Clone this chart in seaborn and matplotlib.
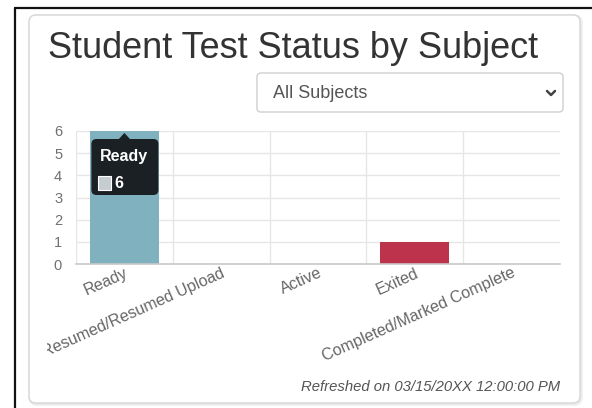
import matplotlib
matplotlib.use("Agg")
import matplotlib.pyplot as plt
import matplotlib.transforms as mtransforms
from matplotlib.patches import FancyBboxPatch, Polygon, Rectangle
from matplotlib.lines import Line2D
import seaborn as sns

# dados do widget
statuses = ["Ready", "Resumed/Resumed Upload", "Active", "Exited", "Completed/Marked Complete"]
counts = [6, 0, 0, 1, 0]
bar_colors = ["#7fb1bf", "#f0ad4e", "#5cb85c", "#be334c", "#337ab7"]
y_ticks = [0, 1, 2, 3, 4, 5, 6]
title = "Student Test Status by Subject"
dropdown_label = "All Subjects"
refreshed = "Refreshed on 03/15/20XX 12:00:00 PM"
tooltip_index = 0

W, H = 592, 408
sns.set_theme(style="white")
plt.rcParams["font.family"] = ["Liberation Sans", "DejaVu Sans"]

fig = plt.figure(figsize=(W / 100, H / 100), dpi=100)
fig.patch.set_facecolor("white")
pix = mtransforms.IdentityTransform()  # coordenadas em pixels (y para cima)

# moldura preta externa (esquerda e topo)
fig.add_artist(Line2D([15, 15], [0, H - 8], transform=pix, color="#111111", lw=1.6, zorder=-3))
fig.add_artist(Line2D([15, W], [H - 8, H - 8], transform=pix, color="#111111", lw=1.6, zorder=-3))

# cartão com sombra
fig.add_artist(FancyBboxPatch((30, 4), 551, 388, boxstyle="round,pad=0,rounding_size=7",
                              transform=pix, fc="#f2f2f2", ec="#ececec", lw=2.5, zorder=-2))
fig.add_artist(FancyBboxPatch((29, 5), 551, 388, boxstyle="round,pad=0,rounding_size=7",
                              transform=pix, fc="white", ec="#d6d6d6", lw=1.0, zorder=-1))

# título
fig.text(48 / W, 1 - 49 / H, title, fontsize=26, color="#333333", va="center", ha="left")

# seletor de matérias
fig.add_artist(FancyBboxPatch((257, H - 112), 306, 39, boxstyle="round,pad=0,rounding_size=4",
                              transform=pix, fc="white", ec="#cfcfcf", lw=1.0, zorder=-1))
fig.text(273 / W, 1 - 93 / H, dropdown_label, fontsize=13, color="#555555", va="center", ha="left")
fig.add_artist(Line2D([547, 551, 555], [H - 91, H - 95, H - 91], transform=pix,
                      color="#444444", lw=1.8, solid_capstyle="round", solid_joinstyle="round"))

# gráfico de barras
ax = fig.add_axes([76 / W, (H - 264) / H, 484 / W, 133 / H])
ax.patch.set_alpha(0)
sns.barplot(x=statuses, y=counts, hue=statuses, palette=bar_colors, legend=False,
            width=0.71, linewidth=0, saturation=1, ax=ax)
ax.set_xlim(-0.5, 4.5)
ax.set_ylim(0, 6)
ax.set_yticks(y_ticks)
ax.set_xticks(range(len(statuses)))
ax.set_xticks([i - 0.5 for i in range(len(statuses))], minor=True)
ax.set_xticklabels(statuses, rotation=24, ha="right", rotation_mode="anchor",
                   fontsize=11.6, color="#666666")
ax.set_xlabel("")
ax.set_ylabel("")
ax.set_axisbelow(True)
ax.grid(axis="y", which="major", color="#e6e6e6", lw=1)
ax.grid(axis="x", which="minor", color="#e6e6e6", lw=1)
ax.grid(axis="x", which="major", visible=False)
ax.tick_params(axis="x", which="major", length=0, pad=1)
ax.tick_params(axis="x", which="minor", length=8, color="#e6e6e6", width=1)
ax.tick_params(axis="y", length=6, color="#e6e6e6", width=1, pad=4, labelsize=10.5, labelcolor="#707070")
for s in ["top", "right", "left"]:
    ax.spines[s].set_visible(False)
ax.spines["bottom"].set_color("#c8c8c8")
ax.spines["bottom"].set_linewidth(1.2)

# rótulo cortado pela borda do canvas
lbl = ax.get_xticklabels()[1]
lbl.set_clip_box(mtransforms.Bbox.from_extents(47, 0, W, H))
lbl.set_clip_on(True)

# tooltip sobre a barra selecionada
tt = mtransforms.Affine2D() + mtransforms.ScaledTranslation(tooltip_index, counts[tooltip_index], ax.transData)
fig.add_artist(FancyBboxPatch((-33, -64), 67, 56, boxstyle="round,pad=0,rounding_size=5",
                              transform=tt, fc="#1b2025", ec="none", zorder=5))
fig.add_artist(Polygon([(-6, -8.5), (6, -8.5), (0, -2)], closed=True, transform=tt,
                       fc="#1b2025", ec="none", zorder=5))
fig.text(-25, -26, statuses[tooltip_index], transform=tt, fontsize=11.5, fontweight="bold",
         color="white", va="center", ha="left", zorder=6)
fig.add_artist(Rectangle((-26, -59), 13, 14, transform=tt, fc="#c6cdd1", ec="white", lw=0.8, zorder=6))
fig.text(-10, -52, str(counts[tooltip_index]), transform=tt, fontsize=11.5, fontweight="bold",
         color="white", va="center", ha="left", zorder=6)

# rodapé
fig.text(560 / W, 1 - 387 / H, refreshed, fontsize=10.7, style="italic", color="#555555",
         va="center", ha="right")

fig.savefig("out.png", dpi=100, facecolor="white")
plt.close(fig)
